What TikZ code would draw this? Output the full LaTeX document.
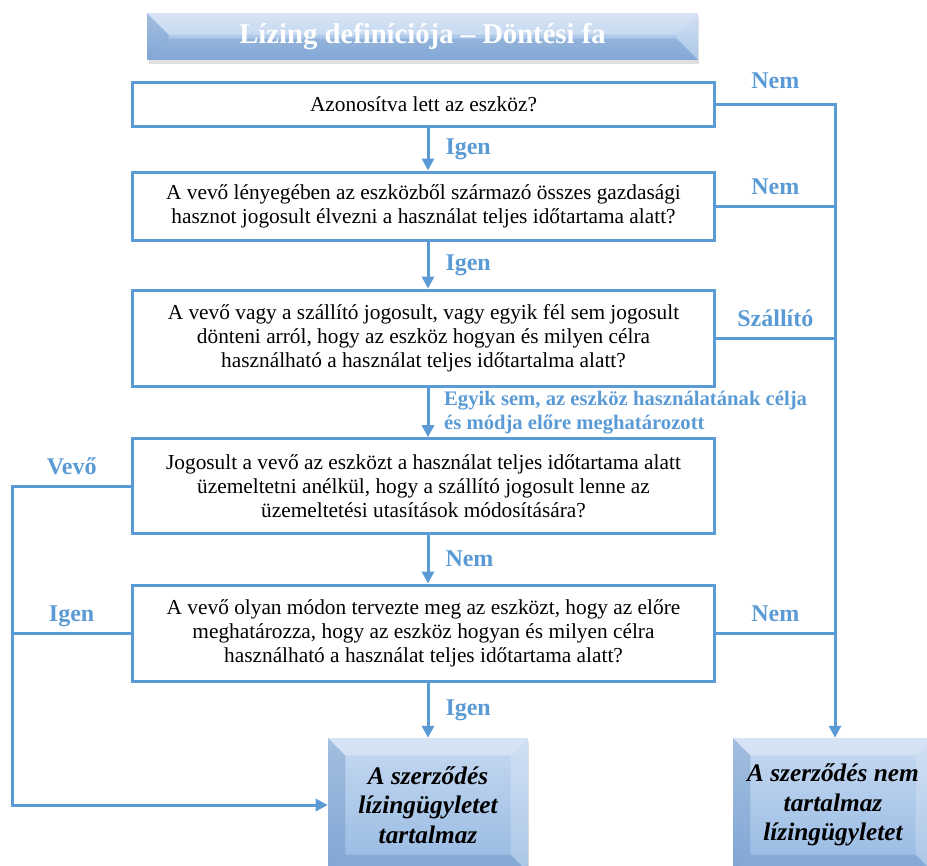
\documentclass[tikz,border=0pt]{standalone}
\usepackage{fontspec}
\setmainfont{Liberation Serif}
\usetikzlibrary{arrows.meta,shadows}

\definecolor{lineblue}{HTML}{5B9BD5}
\definecolor{bevtop}{HTML}{C6D9F1}
\definecolor{bevbot}{HTML}{96B9E2}
\definecolor{bevdark}{HTML}{4A78B3}

\tikzset{
  qbox/.style={rectangle, draw=lineblue, line width=2.25pt, fill=white,
    minimum width=436pt, inner sep=0pt, align=center,
    font=\fontsize{16}{18}\selectfont},
  bevel/.style={rectangle, draw=none, inner sep=0pt, align=center,
    top color=bevtop, bottom color=bevbot,
    drop shadow={opacity=.25, shadow xshift=1pt, shadow yshift=-3pt},
    path picture={
      \path (path picture bounding box.north west) coordinate (pnw)
            (path picture bounding box.north east) coordinate (pne)
            (path picture bounding box.south west) coordinate (psw)
            (path picture bounding box.south east) coordinate (pse);
      \fill[white, opacity=.3] (pnw) -- (pne) -- ([shift={(-#1,-#1)}]pne)
        -- ([shift={(#1,-#1)}]pnw) -- cycle;
      \fill[bevdark, opacity=.28] (pnw) -- ([shift={(#1,-#1)}]pnw)
        -- ([shift={(#1,#1)}]psw) -- (psw) -- cycle;
      \fill[white, opacity=.2] (pne) -- ([shift={(-#1,-#1)}]pne)
        -- ([shift={(-#1,#1)}]pse) -- (pse) -- cycle;
      \fill[bevdark, opacity=.25] (psw) -- ([shift={(#1,#1)}]psw)
        -- ([shift={(-#1,#1)}]pse) -- (pse) -- cycle;
    }},
  titlebox/.style={bevel=16pt, minimum width=413pt, minimum height=35pt,
    text=white, font=\fontsize{21.5}{24}\selectfont\bfseries},
  endbox/.style={bevel=13pt, minimum width=150pt, minimum height=100.5pt,
    font=\fontsize{19}{22}\selectfont\bfseries\itshape},
  flow/.style={draw=lineblue, line width=2.25pt},
  tip/.style={-{Triangle[width=9pt,length=9pt]}},
  lbl/.style={text=lineblue, inner sep=0pt, font=\fontsize{18}{20}\selectfont\bfseries},
  branch/.style={lbl, anchor=base, yshift=9pt}
}

\begin{document}
\begin{tikzpicture}[x=0.75pt, y=-0.75pt]
\useasboundingbox (0,0) rectangle (927,865);
\clip (0,0) rectangle (927,865);

\node[titlebox] (title) at (422.5,36.5) {Lízing definíciója – Döntési fa};

\node[qbox, minimum height=33pt] (b1) at (423.5,104) {Azonosítva lett az eszköz?};
\node[qbox, minimum height=51pt] (b2) at (423.5,206)
  {A vevő lényegében az eszközből származó összes gazdasági\\
   hasznot jogosult élvezni a használat teljes időtartama alatt?};
\node[qbox, minimum height=72pt] (b3) at (423.5,338)
  {A vevő vagy a szállító jogosult, vagy egyik fél sem jogosult\\
   dönteni arról, hogy az eszköz hogyan és milyen célra\\
   használható a használat teljes időtartalma alatt?};
\node[qbox, minimum height=71pt] (b4) at (423.5,486)
  {Jogosult a vevő az eszközt a használat teljes időtartama alatt\\
   üzemeltetni anélkül, hogy a szállító jogosult lenne az\\
   üzemeltetési utasítások módosítására?};
\node[qbox, minimum height=72pt] (b5) at (423.5,633)
  {A vevő olyan módon tervezte meg az eszközt, hogy az előre\\
   meghatározza, hogy az eszköz hogyan és milyen célra\\
   használható a használat teljes időtartama alatt?};

\node[endbox] (yes) at (428,805) {A szerződés\\lízingügyletet\\tartalmaz};
\node[endbox] (no) at (833,805) {A szerződés nem\\tartalmaz\\lízingügyletet};

\coordinate (spine) at (428,0);
\coordinate (rbus) at (835,0);
\coordinate (lbus) at (12,0);

% main line downwards
\draw[flow, tip] (b1.south -| spine) -- node[lbl, anchor=west, xshift=12pt] {Igen} (b2.north -| spine);
\draw[flow, tip] (b2.south -| spine) -- node[lbl, anchor=west, xshift=12pt] {Igen} (b3.north -| spine);
\draw[flow, tip] (b3.south -| spine) -- node[lbl, anchor=west, xshift=11pt, align=left,
    font=\fontsize{15.5}{18}\selectfont\bfseries]
  {Egyik sem, az eszköz használatának célja\\és módja előre meghatározott} (b4.north -| spine);
\draw[flow, tip] (b4.south -| spine) -- node[lbl, anchor=west, xshift=12pt] {Nem} (b5.north -| spine);
\draw[flow, tip] (b5.south -| spine) -- node[lbl, anchor=west, xshift=12pt] {Igen} (yes.north);

% right side
\draw[flow, tip] (b1.east) -- node[branch, yshift=3pt] {Nem} (b1.east -| rbus) -- (rbus |- no.north);
\draw[flow] (b2.east) -- node[branch] {Nem} (b2.east -| rbus);
\draw[flow] (b3.east) -- node[branch] {Szállító} (b3.east -| rbus);
\draw[flow] (b5.east) -- node[branch] {Nem} (b5.east -| rbus);

% left side
\draw[flow, tip] (b4.west) -- node[branch] {Vevő} (b4.west -| lbus) -- (lbus |- yes.west) -- (yes.west);
\draw[flow] (b5.west) -- node[branch] {Igen} (b5.west -| lbus);

\end{tikzpicture}
\end{document}
